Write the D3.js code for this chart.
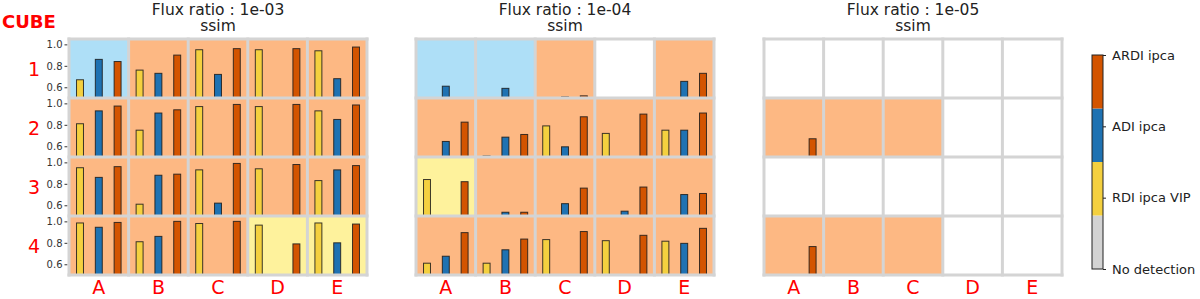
<!DOCTYPE html>
<html>
<head>
<meta charset="utf-8">
<script src="https://cdn.jsdelivr.net/npm/d3@7"></script>
<style>
  body { margin: 0; background: #fff; }
  text { font-family: "DejaVu Sans", sans-serif; }
</style>
</head>
<body>
<div id="chart"></div>
<script>
// Declare data
const fluxRatios = ['1e-03', '1e-04', '1e-05'];
const rows = ['1', '2', '3', '4'];
const cols = ['A', 'B', 'C', 'D', 'E'];
const methods = ['RDI ipca VIP', 'ADI ipca', 'ARDI ipca'];
const cbarLabels = ['No detection', 'RDI ipca VIP', 'ADI ipca', 'ARDI ipca'];

// best method per cell : 0 none, 1 RDI, 2 ADI, 3 ARDI
const best_1e3 = [[2,3,3,3,3],[3,3,3,3,3],[3,3,3,3,3],[3,3,3,1,1]];
const best_1e4 = [[2,2,3,0,3],[3,3,3,3,3],[1,3,3,3,3],[3,3,3,3,3]];
const best_1e5 = [[0,0,0,0,0],[3,3,3,0,0],[0,0,0,0,0],[3,3,3,0,0]];

// ssim per cell : [RDI ipca VIP, ADI ipca, ARDI ipca], null = no detection
const ssim_1e3 = [
	[[0.67,0.86,0.84],[0.76,0.73,0.90],[0.95,0.72,0.96],[0.95,null,0.96],[0.94,0.68,0.975]],
	[[0.81,0.93,0.975],[0.75,0.91,0.94],[0.97,null,0.99],[0.97,null,0.99],[0.93,0.85,0.985]],
	[[0.95,0.86,0.96],[0.61,0.88,0.89],[0.93,0.62,0.99],[0.94,null,0.98],[0.83,0.93,0.97]],
	[[0.985,0.945,0.99],[0.81,0.86,1.0],[0.98,null,1.0],[0.965,null,0.79],[0.985,0.80,0.975]]
];
const ssim_1e4 = [
	[[null,0.61,null],[null,0.59,null],[null,0.51,0.52],[null,null,null],[null,0.655,0.73]],
	[[null,0.645,0.825],[0.51,0.685,0.71],[0.79,0.595,0.875],[0.72,null,0.90],[0.75,0.75,0.91]],
	[[0.84,null,0.82],[null,0.535,0.535],[null,0.615,0.76],[null,0.545,0.77],[null,0.70,0.71]],
	[[0.61,0.675,0.895],[0.61,0.735,0.835],[0.83,null,0.905],[0.82,null,0.87],[0.815,0.795,0.935]]
];
const ssim_1e5 = [
	[[null,null,null],[null,null,null],[null,null,null],[null,null,null],[null,null,null]],
	[[null,null,0.67],[null,null,null],[null,null,null],[null,null,null],[null,null,null]],
	[[null,null,null],[null,null,null],[null,null,null],[null,null,null],[null,null,null]],
	[[null,null,0.765],[null,null,null],[null,null,null],[null,null,null],[null,null,null]]
];

const panels = [
	{ratio: fluxRatios[0], best: best_1e3, ssim: ssim_1e3, x0: 69,  yaxis: true},
	{ratio: fluxRatios[1], best: best_1e4, ssim: ssim_1e4, x0: 416, yaxis: false},
	{ratio: fluxRatios[2], best: best_1e5, ssim: ssim_1e5, x0: 764, yaxis: false}
];

// colours
const barColors = ['#f4d03f', '#1f72b2', '#d35400'];
const bgColors  = ['#ffffff', '#fef29c', '#aedff7', '#fdb883'];
const cbarColors = ['#d3d3d3', '#f4d03f', '#1f72b2', '#d35400'];
const gridColor = '#d4d4d4';

const width = 1200, height = 299;
const panelW = 298, gridTop = 39, gridBottom = 275;

const svg = d3.select('#chart').append('svg')
	.attr('width', width)
	.attr('height', height);

svg.append('text')
	.attr('x', 2).attr('y', 28)
	.style('font-size', '18px').style('font-weight', 'bold')
	.attr('fill', '#ff0000')
	.text('CUBE');

panels.forEach(p => {
	var g = svg.append('g');

	var xCell = d3.scaleBand().domain(cols).range([p.x0, p.x0 + panelW]);
	var yCell = d3.scaleBand().domain(rows).range([gridTop, gridBottom]);
	var xBar = d3.scaleBand().domain(methods).range([0, xCell.bandwidth()])
		.paddingInner(0.63).paddingOuter(0.4);

	// titles
	g.append('text')
		.attr('x', p.x0 + panelW / 2).attr('y', 15)
		.attr('text-anchor', 'middle')
		.style('font-size', '15.5px').attr('fill', '#222')
		.text('Flux ratio : ' + p.ratio);
	g.append('text')
		.attr('x', p.x0 + panelW / 2).attr('y', 31)
		.attr('text-anchor', 'middle')
		.style('font-size', '15.5px').attr('fill', '#222')
		.text('ssim');

	rows.forEach((r, i) => {
		var y = d3.scaleLinear().domain([0.5, 1.05])
			.range([yCell(r) + yCell.bandwidth(), yCell(r)]);

		cols.forEach((c, j) => {
			var cell = g.append('g').attr('transform', 'translate(' + xCell(c) + ',0)');
			cell.append('rect')
				.attr('x', 0).attr('y', yCell(r))
				.attr('width', xCell.bandwidth()).attr('height', yCell.bandwidth())
				.attr('fill', bgColors[p.best[i][j]]);

			var vals = p.ssim[i][j].map((v, k) => ({method: methods[k], value: v, k: k}))
				.filter(d => d.value !== null);
			cell.selectAll('.bar')
				.data(vals)
				.enter().append('rect')
				.attr('class', 'bar')
				.attr('x', d => xBar(d.method))
				.attr('width', xBar.bandwidth())
				.attr('y', d => y(d.value))
				.attr('height', d => y(0.5) - y(d.value))
				.attr('fill', d => barColors[d.k])
				.attr('stroke', '#1a1a1a')
				.attr('stroke-opacity', 0.85)
				.attr('stroke-width', 1);
		});

		// y axis only on the first panel
		if (p.yaxis) {
			var ax = g.append('g')
				.attr('transform', 'translate(' + (p.x0 - 1.5) + ',0)')
				.call(d3.axisLeft(y).tickValues([0.6, 0.8, 1.0])
					.tickFormat(d3.format('.1f')).tickSize(3).tickPadding(2));
			ax.select('.domain').remove();
			ax.selectAll('text').style('font-size', '10px').attr('fill', '#333');
			ax.selectAll('line').attr('stroke', '#333');

			g.append('text')
				.attr('x', 34).attr('y', yCell(r) + yCell.bandwidth() / 2 + 7)
				.attr('text-anchor', 'middle')
				.style('font-size', '19px').attr('fill', '#ff0000')
				.text(r);
		}
	});

	// grid lines between the cells
	g.selectAll('.vline')
		.data(d3.range(cols.length + 1))
		.enter().append('line')
		.attr('x1', d => p.x0 + d * xCell.step()).attr('x2', d => p.x0 + d * xCell.step())
		.attr('y1', gridTop - 1.5).attr('y2', gridBottom + 1.5)
		.attr('stroke', gridColor).attr('stroke-width', 3);
	g.selectAll('.hline')
		.data(d3.range(rows.length + 1))
		.enter().append('line')
		.attr('x1', p.x0 - 1.5).attr('x2', p.x0 + panelW + 1.5)
		.attr('y1', d => gridTop + d * yCell.step()).attr('y2', d => gridTop + d * yCell.step())
		.attr('stroke', gridColor).attr('stroke-width', 3);

	// column labels
	g.selectAll('.collabel')
		.data(cols)
		.enter().append('text')
		.attr('x', d => xCell(d) + xCell.bandwidth() / 2)
		.attr('y', 294)
		.attr('text-anchor', 'middle')
		.style('font-size', '19px').attr('fill', '#ff0000')
		.text(d => d);
});

// colorbar
var cb = d3.scaleLinear().domain([0, 3]).range([269, 55]);
var cbar = svg.append('g');
cbar.selectAll('rect')
	.data(cbarColors)
	.enter().append('rect')
	.attr('x', 1092)
	.attr('width', 11)
	.attr('y', (d, i) => cb((i + 1) * 0.75))
	.attr('height', (d, i) => cb(i * 0.75) - cb((i + 1) * 0.75))
	.attr('fill', d => d);
cbar.append('rect')
	.attr('x', 1092).attr('y', 55).attr('width', 11).attr('height', 214)
	.attr('fill', 'none').attr('stroke', '#222').attr('stroke-width', 1);
var cax = cbar.append('g')
	.attr('transform', 'translate(1103,0)')
	.call(d3.axisRight(cb).tickValues([0, 1, 2, 3])
		.tickFormat(d => cbarLabels[d]).tickSize(3).tickPadding(6));
cax.select('.domain').remove();
cax.selectAll('text').style('font-size', '13px').attr('fill', '#222');
cax.selectAll('line').attr('stroke', '#222');
</script>
</body>
</html>
